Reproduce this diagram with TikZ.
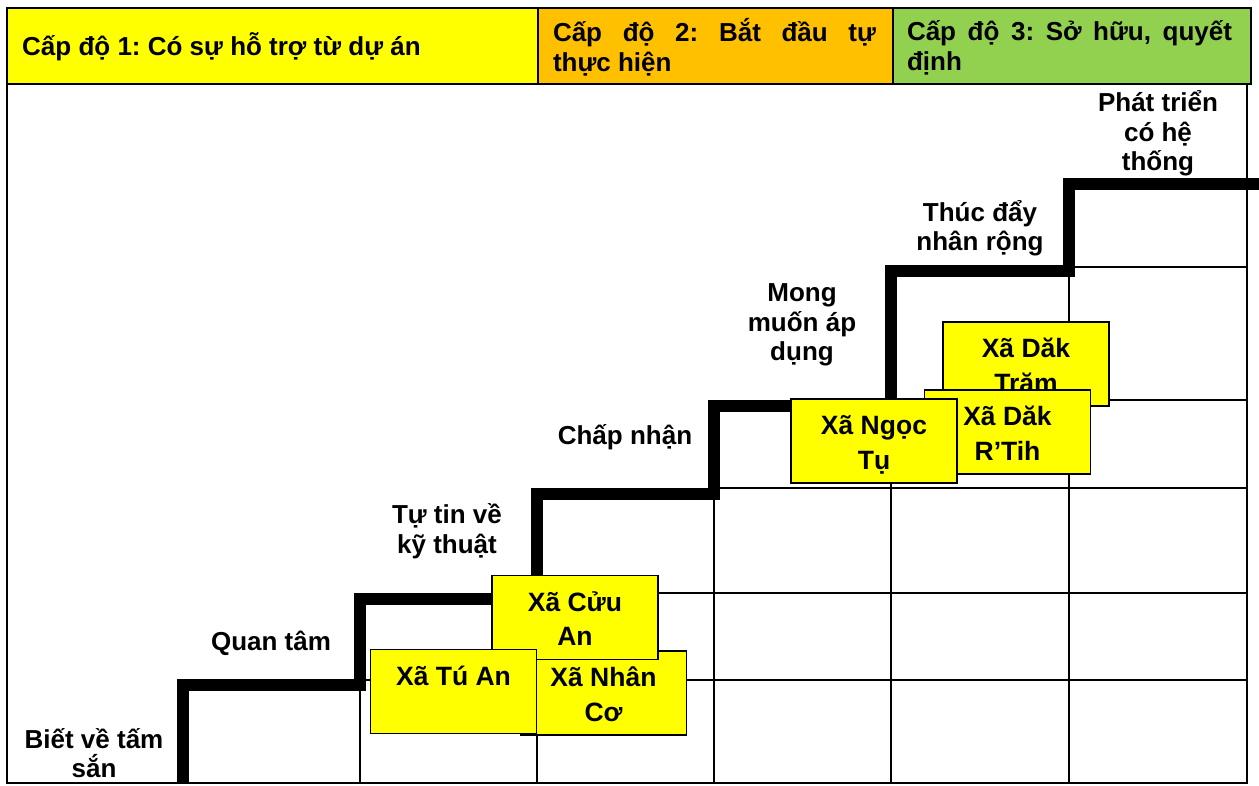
\documentclass[tikz,border=0pt]{standalone}
\usepackage{fontspec}
\setmainfont{Liberation Sans}
\frenchspacing
\definecolor{hdyellow}{HTML}{FFFF00}
\definecolor{hdorange}{HTML}{FFC000}
\definecolor{hdgreen}{HTML}{92D050}
\definecolor{boxyellow}{HTML}{FFFF00}
% uniform line strut for the commune boxes
\newcommand\bxs{\rule[-6.5pt]{0pt}{34.5pt}}
\begin{document}
\begin{tikzpicture}[x=1pt,y=-1pt,
  hdcell/.style={draw=black, line width=2.6pt},
  hdtext/.style={font=\fontsize{26}{30}\selectfont\bfseries, inner sep=0pt},
  cellline/.style={line width=2pt, line cap=rect},
  stair/.style={line width=12.5pt, line join=miter},
  lab/.style={font=\fontsize{26}{29.5}\selectfont\bfseries, align=center, inner sep=0pt},
  xa/.style={draw=black, line width=1.8pt, fill=boxyellow, minimum width=166pt,
    minimum height=84pt, inner sep=0pt, align=center,
    font=\fontsize{26.5}{34.5}\selectfont\bfseries}]
\useasboundingbox (0,0) rectangle (1259,785);

% header row
\fill[hdyellow] (7,8) rectangle (538,84);
\fill[hdorange] (538,8) rectangle (893,84);
\fill[hdgreen] (893,8) rectangle (1251,84);
\draw[hdcell] (7,8) rectangle (1251,84);
\draw[hdcell] (538,8) -- (538,84) (893,8) -- (893,84);
\node[hdtext, anchor=west] (h1) at (22,46.5) {Cấp độ 1: Có sự hỗ trợ từ dự án};
\node[hdtext, text width=323pt, align=justify] (h2) at (714.5,47.5)
  {Cấp độ 2: Bắt đầu tự\linebreak thực hiện};
\node[hdtext, text width=325pt, align=justify] (h3) at (1069.5,47.5)
  {Cấp độ 3: Sở hữu, quyết\linebreak định};

% outer frame of the body
\draw[cellline] (7,84) -- (7,783) -- (1247,783) -- (1247,84);

% cells below the staircase
\draw[cellline] (360,680) -- (1247,680);
\draw[cellline] (537,593) -- (1247,593);
\draw[cellline] (714,488) -- (1247,488);
\draw[cellline] (891,400) -- (1247,400);
\draw[cellline] (1069,267) -- (1247,267);
\draw[cellline] (360,685) -- (360,783);
\draw[cellline] (537,599) -- (537,783);
\draw[cellline] (714,494) -- (714,783);
\draw[cellline] (891,406) -- (891,783);
\draw[cellline] (1069,271) -- (1069,783);

% the staircase
\draw[stair] (183,783) -- (183,685) -- (360,685) -- (360,599) -- (537,599)
  -- (537,494) -- (714,494) -- (714,406) -- (891,406) -- (891,271)
  -- (1069,271) -- (1069,184) -- (1262,184);

% step labels
\node[lab] (s1) at (94,753) {Biết về tấm\\sắn};
\node[lab] (s2) at (271,643) {Quan tâm};
\node[lab] (s3) at (447,531) {Tự tin về\\kỹ thuật};
\node[lab] (s4) at (625,437.5) {Chấp nhận};
\node[lab] (s5) at (802,325) {Mong\\muốn áp\\dụng};
\node[lab] (s6) at (980,228.5) {Thúc đẩy\\nhân rộng};
\node[lab] (s7) at (1158,133.5) {Phát triển\\có hệ\\thống};

% communes
\node[xa] (nhanco) at (603.5,693) {\bxs Xã Nhân\\\bxs Cơ};
\node[xa] (cuuan) at (575,617.5) {\bxs Xã Cửu\\\bxs An};
\node[xa] (tuan) at (453.5,691.5) {\bxs Xã Tú An\\\bxs};
\node[xa] (daktram) at (1026,364) {\bxs Xã Dăk\\\bxs Trăm};
\node[xa] (rtih) at (1007.5,432) {\bxs Xã Dăk\\\bxs R’Tih};
\node[xa] (ngoctu) at (874,441) {\bxs Xã Ngọc\\\bxs Tụ};
\end{tikzpicture}
\end{document}
